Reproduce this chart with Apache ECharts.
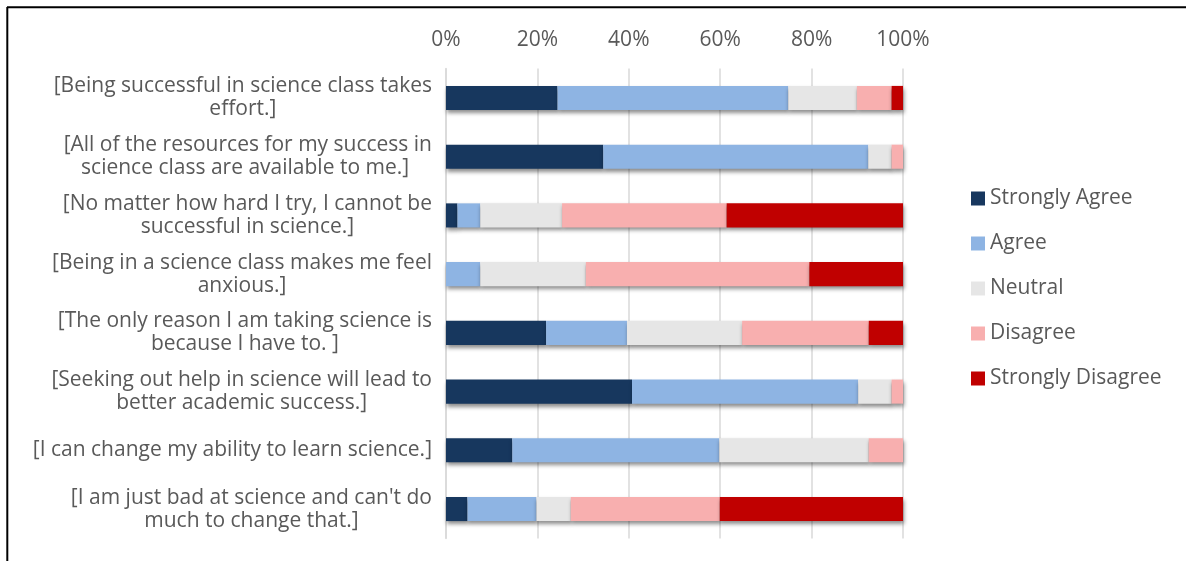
<!DOCTYPE html>
<html>
<head>
<meta charset="utf-8">
<script src="https://cdn.jsdelivr.net/npm/echarts@6/dist/echarts.min.js"></script>
<style>
html,body{margin:0;padding:0;background:#fff;}
#chart{width:1186px;height:561px;}
</style>
</head>
<body>
<div id="chart"></div>
<script>
var categories = [
  "[Being successful in science class takes\neffort.]",
  " [All of the resources for my success in\nscience class are available to me.]",
  "[No matter how hard I try, I cannot be\nsuccessful in science.]",
  "[Being in a science class makes me feel\nanxious.]",
  "[The only reason I am taking science is\nbecause I have to. ]",
  "[Seeking out help in science will lead to\nbetter academic success.]",
  "[I can change my ability to learn science.]",
  "[I am just bad at science and can't do\nmuch to change that.]"
];
var seriesNames = ["Strongly Agree", "Agree", "Neutral", "Disagree", "Strongly Disagree"];
var stronglyAgree    = [24.4, 34.4,  2.5,  0.0, 21.9, 40.7, 14.5,  4.7];
var agree            = [50.5, 58.0,  5.0,  7.5, 17.7, 49.5, 45.3, 15.1];
var neutral          = [15.0,  5.1, 17.9, 23.1, 25.2,  7.3, 32.7,  7.5];
var disagree         = [ 7.6,  2.5, 36.0, 48.9, 27.7,  2.5,  7.5, 32.6];
var stronglyDisagree = [ 2.5,  0.0, 38.6, 20.5,  7.5,  0.0,  0.0, 40.1];
var tickValues = [0, 20, 40, 60, 80, 100];

var colors = ["#17375E", "#8EB4E3", "#E6E6E6", "#F8AFAF", "#C00000"];
var values = [stronglyAgree, agree, neutral, disagree, stronglyDisagree];
var FONT = "Open Sans";

var chart = echarts.init(document.getElementById('chart'));
var series = seriesNames.map(function (name, i) {
  return {
    name: name,
    type: 'bar',
    stack: 'total',
    barCategoryGap: '59%',
    data: values[i],
    itemStyle: {
      color: colors[i],
      shadowColor: 'rgba(0,0,0,0.45)',
      shadowBlur: 4,
      shadowOffsetX: 1,
      shadowOffsetY: 3
    },
    emphasis: { disabled: true }
  };
});

chart.setOption({
  animation: false,
  backgroundColor: '#ffffff',
  textStyle: { fontFamily: FONT },
  grid: { left: 446, right: 283, top: 68.6, bottom: 22.6, containLabel: false },
  xAxis: {
    type: 'value',
    position: 'top',
    min: tickValues[0],
    max: tickValues[tickValues.length - 1],
    interval: tickValues[1] - tickValues[0],
    axisLine: { show: false },
    axisTick: { show: false },
    axisLabel: {
      formatter: '{value}%',
      color: '#595959',
      fontFamily: FONT,
      fontSize: 21,
      margin: 18
    },
    splitLine: { show: true, lineStyle: { color: '#D9D9D9', width: 1.5 } }
  },
  yAxis: {
    type: 'category',
    inverse: true,
    data: categories,
    axisLine: { show: true, lineStyle: { color: '#D9D9D9', width: 1.5 } },
    axisTick: { show: false },
    axisLabel: {
      margin: 14,
      color: '#595959',
      fontFamily: FONT,
      fontSize: 21,
      lineHeight: 23,
      formatter: function (v) {
        return v.split('\n').map(function (l) { return '{c|' + l + '}'; }).join('\n');
      },
      rich: {
        c: { align: 'center', color: '#595959', fontFamily: FONT, fontSize: 21, lineHeight: 23 }
      }
    }
  },
  legend: {
    orient: 'vertical',
    left: 966,
    top: 183,
    itemWidth: 14,
    itemHeight: 14,
    itemGap: 24,
    icon: 'rect',
    data: seriesNames,
    textStyle: { color: '#595959', fontFamily: FONT, fontSize: 21, lineHeight: 21 }
  },
  graphic: [
    { type: 'line', shape: { x1: 7, y1: 7.3, x2: 1186, y2: 7.3 }, style: { stroke: '#000', lineWidth: 2 } },
    { type: 'line', shape: { x1: 7.3, y1: 7, x2: 7.3, y2: 561 }, style: { stroke: '#000', lineWidth: 2 } }
  ],
  series: series
});
</script>
</body>
</html>
